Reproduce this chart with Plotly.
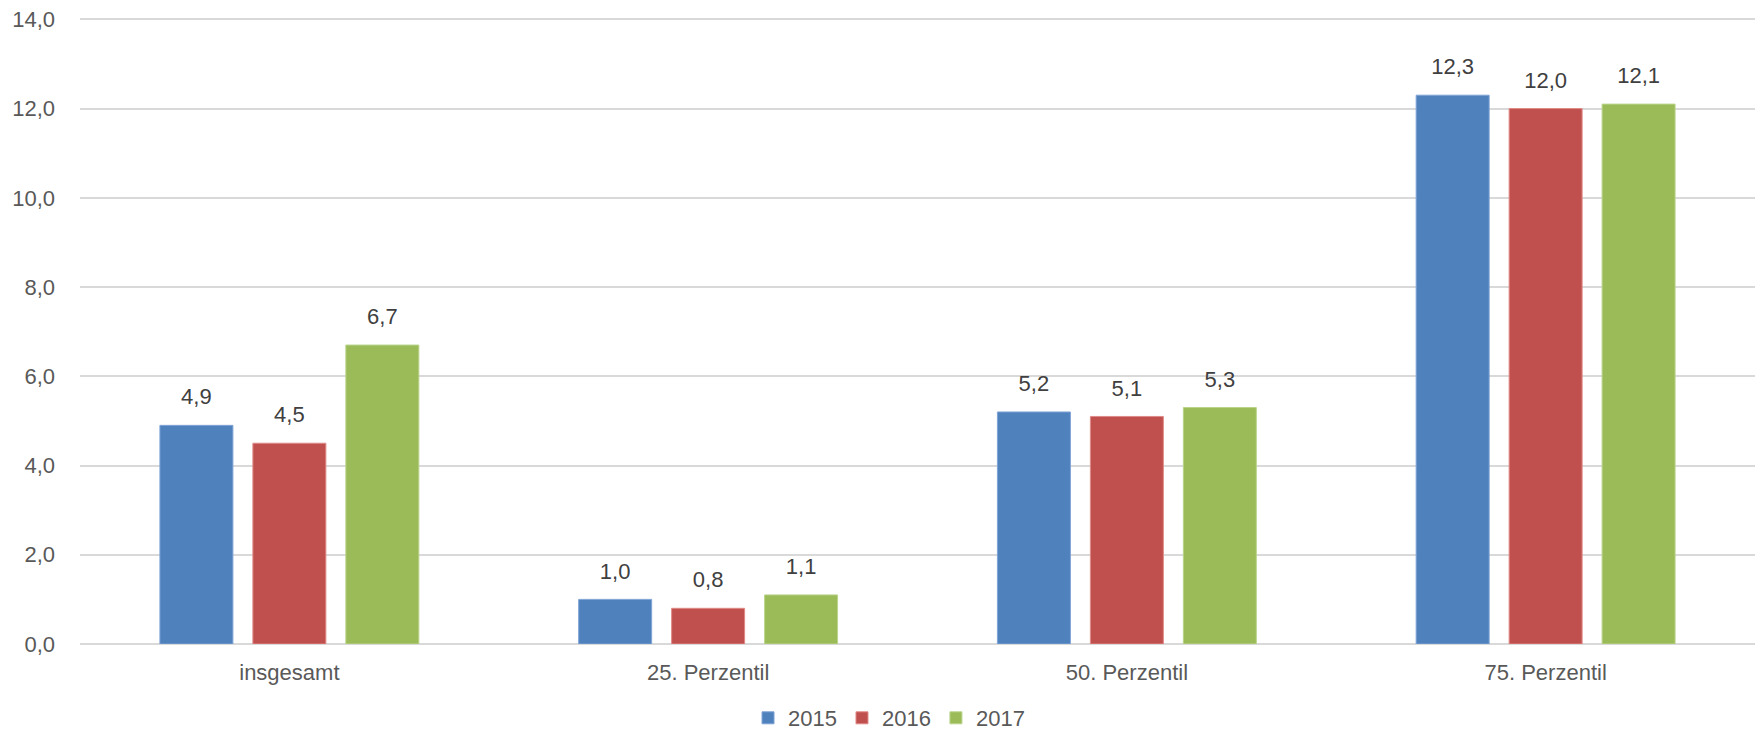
import plotly.graph_objects as go

categories = ["insgesamt", "25. Perzentil", "50. Perzentil", "75. Perzentil"]
years = ["2015", "2016", "2017"]
values_2015 = [4.9, 1.0, 5.2, 12.3]
values_2016 = [4.5, 0.8, 5.1, 12.0]
values_2017 = [6.7, 1.1, 5.3, 12.1]
y_ticks = [0, 2, 4, 6, 8, 10, 12, 14]

series = [values_2015, values_2016, values_2017]
colors = ["#4F81BD", "#C0504D", "#9BBB59"]
edges = ["#7FA3D6", "#E08A88", "#B9D48A"]

FONT = "Liberation Sans, Arial, sans-serif"
FS = 22

fig = go.Figure()
for name, vals, c, e in zip(years, series, colors, edges):
    fig.add_trace(go.Bar(
        x=categories, y=vals, name=name,
        offsetgroup=name, alignmentgroup="g",
        marker=dict(color=c, line=dict(color=e, width=1)),
    ))
for name, vals in zip(years, series):
    fig.add_trace(go.Scatter(
        x=categories, y=vals, name=name + " label",
        offsetgroup=name, alignmentgroup="g",
        mode="markers+text", text=[f"{v:.1f}".replace(".", ",") for v in vals],
        textposition="top center",
        marker=dict(size=23, opacity=0),
        textfont=dict(family=FONT, size=FS, color="#404040"),
        showlegend=False, hoverinfo="skip", cliponaxis=False,
    ))

fig.update_layout(
    width=1761, height=735,
    paper_bgcolor="white", plot_bgcolor="white",
    margin=dict(l=80, r=6, t=18, b=91, autoexpand=False),
    barmode="group", bargap=0.334, bargroupgap=0.215,
    scattermode="group", scattergap=0.334,
    separators=",.",
    font=dict(family=FONT, size=FS, color="#595959"),
    showlegend=True,
    legend=dict(orientation="h", x=0.483, xanchor="center",
                yref="container", y=1 - 718 / 735, yanchor="middle",
                font=dict(family=FONT, size=FS, color="#595959"),
                tracegroupgap=0),
)
fig.update_yaxes(range=[0, 14.03], tickvals=y_ticks, tickformat=".1f",
                 showgrid=True, gridcolor="#D9D9D9", gridwidth=1.5,
                 zeroline=True, zerolinecolor="#D9D9D9", zerolinewidth=1.5,
                 showline=False, ticks="", ticklabelstandoff=24, automargin=False,
                 tickfont=dict(family=FONT, size=FS, color="#595959"))
fig.update_xaxes(showline=False, ticks="", ticklabelstandoff=13, automargin=False,
                 tickfont=dict(family=FONT, size=FS, color="#595959"))

fig.write_html("out.html", config={"displayModeBar": False},
               post_script="document.body.style.margin='0';document.body.style.overflow='hidden';")
